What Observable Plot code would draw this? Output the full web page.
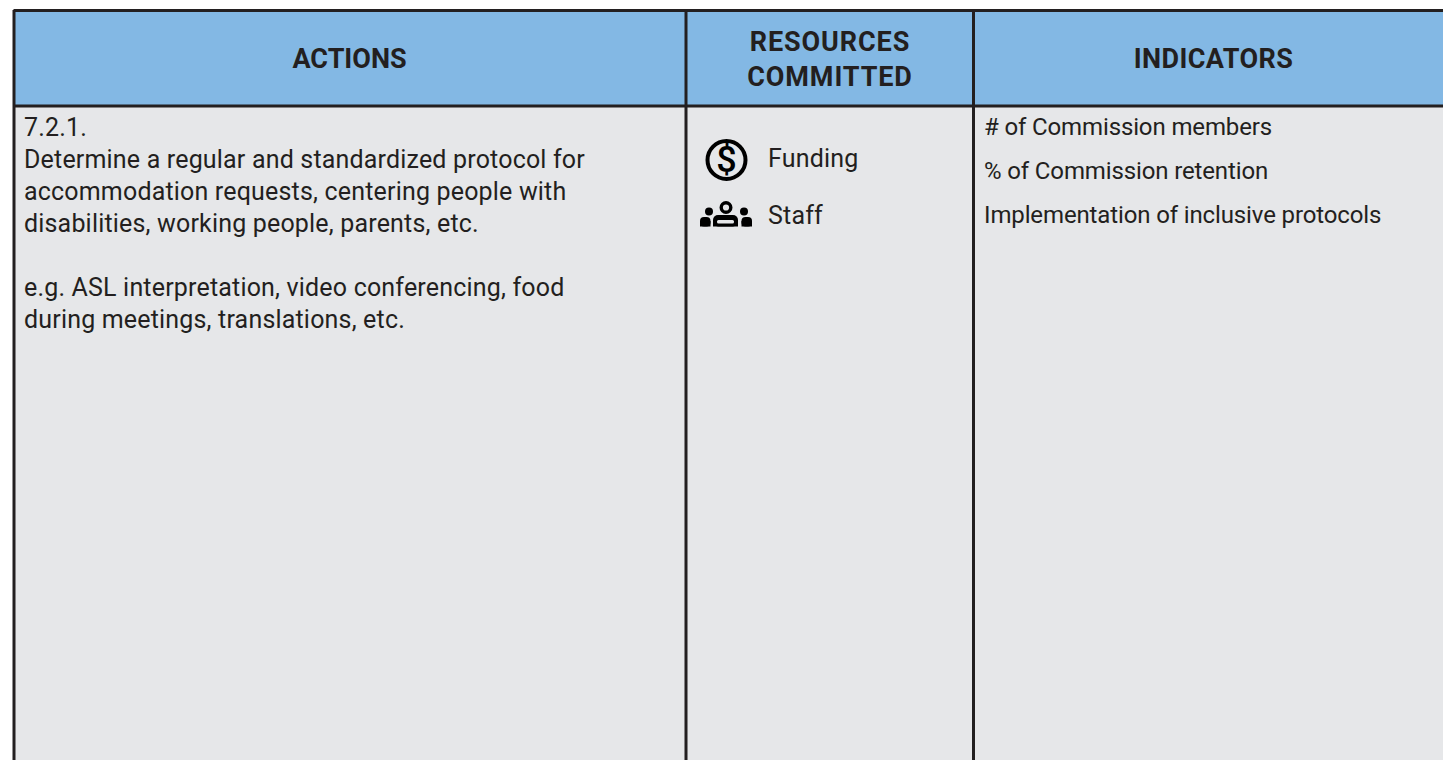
<!DOCTYPE html>
<html><head><meta charset="utf-8">
<script src="https://cdn.jsdelivr.net/npm/d3@7"></script>
<script src="https://cdn.jsdelivr.net/npm/@observablehq/plot@0.6"></script>
<style>
html,body{margin:0;padding:0;background:#fff;overflow:hidden}svg{display:block}
.t-head0 text{letter-spacing:0}
.t-head1 text{letter-spacing:.9px}
.t-head2 text{letter-spacing:.4px}
.t-action text{letter-spacing:.18px}
.t-res text{letter-spacing:.2px}
.t-ind text{letter-spacing:-.13px}
</style>
</head><body>
<script>
const colEdges = [13.5, 685.5, 973, 1443];
const rowEdges = [10, 105.5, 760];
const headerLabels = ["ACTIONS", "RESOURCES\nCOMMITTED", "INDICATORS"];
const headerCenters = [349, 829.5, 1213];
const actionLines = [
  "7.2.1.",
  "Determine a regular and standardized protocol for",
  "accommodation requests, centering people with",
  "disabilities, working people, parents, etc.",
  "e.g. ASL interpretation, video conferencing, food",
  "during meetings, translations, etc."
];
const actionRows = [127, 159, 191, 223, 287, 319];
const resources = ["Funding", "Staff"];
const resourceRows = [158.5, 215];
const indicators = ["# of Commission members", "% of Commission retention", "Implementation of inclusive protocols"];
const indicatorRows = [127, 171, 215];
const ink = "#231f20", headFill = "#83b8e4", bodyFill = "#e6e7e9";
const bodyFont = "Roboto, sans-serif";

const headCells = headerLabels.map((label, i) => ({label, x: headerCenters[i], x1: colEdges[i], x2: colEdges[i+1]}));
const staffSideHeads = [{x:708.5,y:211},{x:743.5,y:211}];
const staffSideBodies = [{x1:700,x2:710.5},{x1:741.5,x2:752}];

const chart = Plot.plot({
  width: 1443, height: 760, margin: 0,
  x: {domain: [0, 1443], range: [0, 1443], axis: null},
  y: {domain: [0, 760], range: [0, 760], axis: null},
  style: {background: "#fff"},
  marks: [
    Plot.rect(headCells, {x1: "x1", x2: "x2", y1: rowEdges[0], y2: rowEdges[1], fill: headFill}),
    Plot.rect(headCells, {x1: "x1", x2: "x2", y1: rowEdges[1], y2: rowEdges[2], fill: bodyFill}),
    Plot.ruleY([rowEdges[0], rowEdges[1]], {x1: colEdges[0], x2: colEdges[3], stroke: ink, strokeWidth: 3}),
    Plot.ruleX(colEdges.slice(0, 3), {y1: rowEdges[0], y2: rowEdges[2], stroke: ink, strokeWidth: 3}),
    ...headCells.map((c, i) => Plot.text([c], {x: "x", y: 57, text: "label", fill: ink, fontFamily: "Roboto, sans-serif", fontWeight: 700, fontSize: 27, lineHeight: 1.27, className: "t-head" + i})),
    Plot.text(actionLines, {x: 23.5, y: (d, i) => actionRows[i], text: d => d, textAnchor: "start", fill: ink, fontFamily: bodyFont, fontSize: 25, className: "t-action"}),
    Plot.text(resources, {x: 767.5, y: (d, i) => resourceRows[i], text: d => d, textAnchor: "start", fill: ink, fontFamily: bodyFont, fontSize: 25, className: "t-res"}),
    Plot.text(indicators, {x: 983.5, y: (d, i) => indicatorRows[i], text: d => d, textAnchor: "start", fill: ink, fontFamily: bodyFont, fontSize: 24, className: "t-ind"}),
    Plot.dot([{x: 726, y: 159.5}], {x: "x", y: "y", r: 19, stroke: "#000", strokeWidth: 4, fill: "none"}),
    Plot.text(["$"], {x: 726, y: 159.5, text: d => d, fill: "#000", fontFamily: "Roboto, sans-serif", fontWeight: 500, fontSize: 36}),
    Plot.dot([{x: 725.5, y: 207}], {x: "x", y: "y", r: 4.8, stroke: "#000", strokeWidth: 3.4, fill: bodyFill}),
    Plot.dot(staffSideHeads, {x: "x", y: "y", r: 4, fill: "#000"}),
    Plot.rect([{x1: 713, x2: 738}], {x1: "x1", x2: "x2", y1: 215, y2: 226.5, fill: "#000", rx: 5}),
    Plot.rect([{x1: 713, x2: 738}], {x1: "x1", x2: "x2", y1: 221, y2: 226.5, fill: "#000"}),
    Plot.rect([{x1: 717, x2: 734}], {x1: "x1", x2: "x2", y1: 220, y2: 223.5, fill: bodyFill, rx: 1.5}),
    Plot.rect(staffSideBodies, {x1: "x1", x2: "x2", y1: 217, y2: 226.5, fill: "#000", rx: 4}),
    Plot.rect(staffSideBodies, {x1: "x1", x2: "x2", y1: 221, y2: 226.5, fill: "#000"})
  ]
});
document.body.appendChild(chart);
</script>
</body></html>
